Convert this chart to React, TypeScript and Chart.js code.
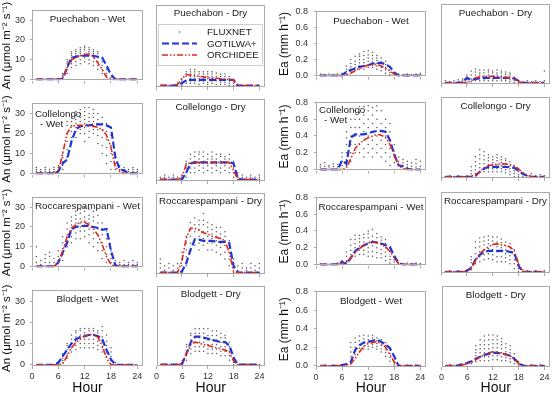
import React, { useEffect, useRef } from "react";
import { Chart, registerables } from "chart.js";
Chart.register(...registerables);

const FONT = "'Liberation Sans', Arial, sans-serif";

// ---------- data ----------
const HOURS = [1, 2, 3, 4, 5, 6, 7, 8, 9, 10, 11, 12, 13, 14, 15, 16, 17, 18, 19, 20, 21, 22, 23, 24];
const X_TICKS = [0, 6, 12, 18, 24];
const AN_TICKS = [0, 10, 20, 30];
const EA_TICKS = [0, 0.2, 0.4, 0.6, 0.8];
const SITES = ["Puechabon", "Collelongo", "Roccarespampani", "Blodgett"];
const SEASONS = ["Wet", "Dry"];
const SERIES = ["FLUXNET", "GOTILWA+", "ORCHIDEE"];

// An (µmol m-2 s-1) model means
const anGotPW = [0,0,0,0,0,0,0.3,6,11,11.5,12,12,12,12,11.5,11,7,2.5,0,0,0,0,0,0];
const anOrcPW = [0,0,0,0,0,0,1,6,10,11,12,12.5,13,11.5,8.5,5,1,0,0,0,0,0,0,0];
const anGotPD = [0,0,0,0,0.3,1,2.3,2.5,2.5,2.5,2.5,2.5,2.5,2.5,2.5,2.5,2.5,2.5,0,0,0,0,0,0];
const anOrcPD = [0,0,0,0,0.5,3,4.8,4.5,4.3,4,3.8,3.5,3.3,3.2,3,2.8,2.6,2.3,0,0,0,0,0,0];
const anGotCW = [0,0,0,0,0,1,5,7,16,22,23.5,24,24,24.5,24.5,24.5,24,23,8,2,1.5,0,0,0];
const anOrcCW = [0,0,0,0,0,1,10,20,23.5,24,24,24,24,23.5,23,22,19,13,3,1,0,0,0,0];
const anGotCD = [0,0,0,0,0,0,3,7,7.5,7.5,7.5,7.5,7.5,7.5,7.5,7.5,7.5,7,0.5,0,0,0,0,0];
const anOrcCD = [0,0,0,0,0,1,6.5,7.5,7.5,7.5,7.5,7.5,7.5,7.5,7.5,7.5,7.5,4,0,0,0,0,0,0];
const anGotRW = [0,0,0,0,0,2,7,12,19,20,20.5,20.5,20.5,20,19.5,18.5,19,8,0.5,0,0,0,0,0];
const anOrcRW = [0,0,0,0,0,2,8,15,19.5,21,22.5,22.5,21,19,16,11,5,1,0,0,0,0,0,0];
const anGotRD = [0,0,0,0,0,0.5,4,10,14.5,14.5,14,14,14,13.5,13.5,13.5,13,3,0,0,0,0,0,0];
const anOrcRD = [0,0,0,0,0,5,15,19.5,19.5,18.5,17.5,17,16,15.5,15,14,9,0.5,0,0,0,0,0,0];
const anGotBW = [0,0,0,0,0,1,4,7,10,12,13,13.5,14,14,13.5,12,7,2.5,0,0,0,0,0,0];
const anOrcBW = [0,0,0,0,0,0,0.5,4,8,10.5,12,13.5,14,14.5,13,9,3,0,0,0,0,0,0,0];
const anGotBD = [0,0,0,0,0,0.5,5,10,12.5,12.5,12,11.5,11,10.5,10,10,8.5,3,0,0,0,0,0,0];
const anOrcBD = [0,0,0,0,0,0.5,5,9,10,9.5,9,8.5,8,7.5,7,6.5,5.5,1.5,0,0,0,0,0,0];

// Ea (mm h-1) model means
const eaGotPW = [0,0,0,0,0,0,0.05,0.07,0.09,0.11,0.12,0.13,0.15,0.16,0.16,0.14,0.11,0.04,0,0,0,0,0,0];
const eaOrcPW = [0,0,0,0,0,0,0.01,0.03,0.06,0.09,0.11,0.13,0.14,0.14,0.12,0.09,0.06,0.02,0,0,0,0,0,0];
const eaGotPD = [0,0,0,0,0.005,0.05,0.03,0.04,0.045,0.05,0.05,0.05,0.05,0.05,0.05,0.05,0.045,0.02,0,0,0,0,0,0];
const eaOrcPD = [0,0,0,0,0,0.005,0.02,0.05,0.06,0.065,0.065,0.065,0.065,0.06,0.055,0.05,0.04,0.01,0,0,0,0,0,0];
const eaGotCW = [0,0,0,0,0,0.11,0.07,0.38,0.42,0.42,0.42,0.43,0.45,0.46,0.46,0.45,0.35,0.18,0.05,0.04,0.01,0,0,0];
const eaOrcCW = [0,0,0,0,0,0,0.02,0.13,0.25,0.31,0.35,0.38,0.4,0.42,0.41,0.38,0.3,0.17,0.05,0.01,0,0,0,0];
const eaGotCD = [0,0,0,0,0,0,0,0.01,0.05,0.08,0.1,0.1,0.1,0.1,0.1,0.095,0.09,0.06,0.03,0.01,0,0,0,0];
const eaOrcCD = [0,0,0,0,0,0,0.005,0.02,0.05,0.09,0.11,0.12,0.125,0.13,0.13,0.12,0.11,0.08,0.04,0.02,0,0,0,0];
const eaGotRW = [0,0,0,0,0.005,0.03,0.01,0.08,0.16,0.2,0.23,0.25,0.27,0.265,0.25,0.23,0.21,0.1,0.02,0,0,0,0,0];
const eaOrcRW = [0,0,0,0,0,0.01,0.03,0.08,0.14,0.19,0.23,0.26,0.27,0.26,0.24,0.21,0.16,0.08,0.01,0,0,0,0,0];
const eaGotRD = [0,0,0,0,0,0.01,0.04,0.12,0.17,0.2,0.21,0.21,0.21,0.21,0.21,0.2,0.19,0.06,0,0,0,0,0,0];
const eaOrcRD = [0,0,0,0,0,0.005,0.03,0.11,0.18,0.22,0.25,0.275,0.28,0.27,0.265,0.25,0.21,0.08,0,0,0,0,0,0];
const eaGotBW = [0,0,0,0,0,0.01,0.02,0.04,0.17,0.22,0.25,0.26,0.27,0.28,0.26,0.23,0.19,0.1,0,0,0,0,0,0];
const eaOrcBW = [0,0,0,0,0,0,0.01,0.02,0.08,0.15,0.21,0.24,0.25,0.26,0.24,0.2,0.12,0.04,0,0,0,0,0,0];
const eaGotBD = [0,0,0,0.005,0.02,0.03,0.045,0.07,0.09,0.11,0.12,0.13,0.13,0.12,0.115,0.1,0.07,0.03,0,0,0,0,0,0];
const eaOrcBD = [0,0,0,0,0.01,0.02,0.035,0.06,0.09,0.11,0.13,0.14,0.135,0.125,0.115,0.1,0.07,0.02,0,0,0,0,0,0];

// FLUXNET observations, one list per hour
const anFluxPW = [[],[],[],[],[],[0.5],[0,1,2,3],[3,5,6,8,9,10],[6,8,9,11,12,13,14],[7,9,11,12,13,14,15],[8,10,12,13,14,15,16],[9,11,12,13,15,16,17],[8,10,12,14,15,16],[7,9,11,13,14,15],[5,7,9,11,13,14],[3,5,7,9,11],[0,2,3,5],[0,1],[],[],[],[],[],[]];
const anFluxPD = [[],[],[],[],[0,1],[0,1,2,3],[1,2,4,5,6],[1,2,3,4,5,6,7],[1,2,3,4,5,6,7],[0.5,2,3,4,5,6],[1,2,3,4,5,6],[0.5,1.5,3,4,5,6],[1,2,3,4,5,6],[0.5,2,3,4,5.5],[0.5,1.5,3,4,5],[0.5,1.5,2.5,4,5],[0,1,2,3,4],[0,1,2],[],[],[],[],[],[]];
const anFluxCW = [[0,1,2,3],[0,1,2],[0,1,2,3],[0,1,2],[0,1,2,3],[0,1,2,3,4],[2,4,6,8,10],[8,12,16,20,24,26],[15,18,21,24,26,28],[18,21,23,25,27,29,31],[20,22,24,26,28,30,32],[16,20,23,25,27,29,31,33],[18,21,24,26,28,30,33],[20,22,24,26,28,30,32],[15,19,22,25,27,30],[10,14,18,22,25,28],[5,9,13,17,21,25],[2,6,10,14,19],[0,2,5,8,10],[0,1,2,4],[0,1,2,3],[0,1,2],[0,1,2,3],[0,1,2]];
const anFluxCD = [[0,1],[0,1,2],[0,1],[0,1,2],[0,1],[0,1,2],[1,3,5,7,8],[3,5,7,9,11],[3,5,7,8,10,12],[4,6,7,9,11,12],[3,5,7,8,10,12],[4,6,7,9,11],[3,5,7,9,10,12],[4,6,7,9,11],[3,5,7,8,10,11],[4,6,7,9,10],[3,5,7,9,11],[1,3,5,7,8],[0,1,3],[0,1,2],[0,1],[0,1,2],[0,1],[0,1,2]];
const anFluxRW = [[0,2,5,10],[0,1,3],[0,2,4,6],[0,2,5,7],[0,2,4],[0,3,5,8],[3,6,9,12,15],[10,13,16,19,22],[12,15,18,21,23,25],[14,17,20,22,24,26,28],[14,18,20,22,24,27,29],[15,18,21,23,25,28,30],[12,16,19,22,24,26,29],[10,14,17,20,23,25,28],[8,12,16,19,22,26],[4,8,12,16,19,22],[2,6,10,14,18],[0,2,4,6,8],[0,1,3],[0,1,2],[0,1,3],[0,1,2],[0,1,3],[0,1,2]];
const anFluxRD = [[0,2,4,6],[0,1,3],[0,2,4],[0,1,3],[0,2,4],[0,3,6,9],[3,7,10,13,16],[10,13,16,19,22],[12,15,18,21,24],[10,13,16,19,21,23],[12,15,18,21,23,26],[10,13,16,18,20,22],[10,13,15,17,19,21],[9,12,14,16,18,20],[8,11,13,15,17,20],[6,9,12,14,16,18],[3,6,9,12,14],[0,2,4,6],[0,1,3],[0,2,4],[0,1,2],[0,2,4],[0,1,3],[0,2,4]];
const anFluxBW = [[],[],[],[],[],[0,1],[1,2,3,4,5],[3,5,7,9,10],[6,8,10,12,14],[7,9,11,13,15,16],[8,10,12,14,16,17],[8,10,12,14,15,17],[8,10,12,14,16,17],[8,10,12,14,16,17],[7,9,11,13,15,16],[6,8,11,13,16,18],[4,6,9,11,14],[0,2,4,6,8],[0,1],[],[],[],[],[]];
const anFluxBD = [[0],[0],[0],[0],[0],[0,1,2],[2,4,6,8,9],[5,7,9,11,13,14],[6,8,10,12,14,16],[6,8,10,12,14,16],[6,8,10,12,14,16],[5,7,9,11,13,16],[5,7,9,11,13,15],[5,7,9,11,13,15],[4,6,8,10,12,14],[4,6,8,10,12,13],[2,4,6,8,10],[0,1,2,3],[0],[0],[0],[0],[0],[0]];

const eaFluxPW = [[0,0.02],[0.01],[0,0.02],[0.01],[0,0.02],[0,0.02,0.03],[0.02,0.05,0.08,0.12],[0.05,0.08,0.11,0.15,0.2],[0.07,0.1,0.14,0.18,0.24],[0.08,0.12,0.16,0.2,0.24,0.27],[0.08,0.12,0.16,0.2,0.25,0.3],[0.1,0.14,0.18,0.22,0.26,0.31],[0.1,0.13,0.17,0.21,0.25,0.29],[0.08,0.12,0.15,0.19,0.22,0.25],[0.06,0.1,0.13,0.17,0.22],[0.03,0.07,0.1,0.14,0.18],[0.01,0.04,0.07,0.1],[0,0.02,0.04],[0,0.02],[0.01],[0,0.02],[0.01],[0,0.02],[0.01,0.03]];
const eaFluxPD = [[0,0.02],[0.01],[0,0.02],[0.01,0.03],[0,0.02,0.04],[0,0.03,0.06,0.08],[0.01,0.04,0.08,0.12],[0.02,0.05,0.08,0.11,0.14],[0.02,0.05,0.08,0.1,0.13],[0.02,0.04,0.07,0.1,0.13],[0.02,0.05,0.08,0.11,0.13],[0.02,0.04,0.07,0.1,0.12],[0.02,0.05,0.08,0.1,0.13],[0.02,0.04,0.07,0.1,0.12],[0.02,0.04,0.06,0.09,0.11],[0.01,0.03,0.06,0.08,0.1],[0,0.02,0.04,0.06],[0,0.02],[0.01],[0,0.02],[0.01],[0,0.02],[0.01],[0.02,0.12]];
const eaFluxCW = [[0,0.03,0.06],[0,0.04,0.08],[0,0.03,0.05],[0,0.04,0.07],[0,0.03,0.06],[0,0.05,0.1,0.15,0.2],[0.05,0.12,0.2,0.3,0.38,0.45],[0.1,0.2,0.3,0.4,0.5,0.6],[0.2,0.3,0.4,0.5,0.6,0.7],[0.2,0.3,0.4,0.5,0.6,0.68,0.75],[0.15,0.25,0.35,0.45,0.55,0.65,0.75],[0.2,0.3,0.4,0.5,0.6,0.7,0.76],[0.15,0.25,0.35,0.45,0.55,0.65,0.74],[0.2,0.3,0.4,0.5,0.6,0.7,0.76],[0.15,0.25,0.35,0.45,0.55,0.7],[0.1,0.2,0.3,0.4,0.5,0.6],[0.05,0.15,0.25,0.35,0.45,0.55],[0,0.08,0.15,0.22,0.3],[0,0.05,0.1,0.15],[0,0.04,0.08,0.12],[0,0.03,0.06,0.1],[0,0.04,0.08],[0,0.03,0.07,0.12],[0,0.04,0.1]];
const eaFluxCD = [[0],[0.01],[0],[0.01],[0],[0.01],[0,0.03,0.06,0.1],[0.03,0.07,0.11,0.15,0.2],[0.05,0.09,0.13,0.18,0.22,0.27],[0.05,0.09,0.13,0.17,0.21,0.25],[0.05,0.08,0.12,0.16,0.19,0.22],[0.05,0.08,0.11,0.14,0.17,0.2],[0.05,0.08,0.12,0.16,0.19,0.22],[0.05,0.08,0.11,0.14,0.17,0.2],[0.04,0.07,0.1,0.13,0.16,0.18],[0.02,0.05,0.08,0.11,0.15],[0,0.03,0.06,0.1],[0,0.02,0.05],[0,0.02],[0.01],[0,0.03],[0.01],[0,0.02],[0.01]];
const eaFluxRW = [[0,0.01],[0.01],[0],[0.01],[0,0.02],[0,0.02,0.05],[0.02,0.05,0.1,0.15],[0.07,0.12,0.17,0.23,0.3],[0.1,0.15,0.2,0.25,0.3,0.35],[0.12,0.17,0.22,0.27,0.31,0.35],[0.12,0.17,0.22,0.27,0.32,0.36],[0.1,0.15,0.2,0.26,0.32,0.37,0.4],[0.1,0.16,0.22,0.28,0.34,0.42],[0.08,0.14,0.2,0.26,0.32,0.37],[0.08,0.13,0.18,0.24,0.29,0.33],[0.05,0.1,0.15,0.2,0.25,0.3],[0.02,0.06,0.1,0.15,0.2],[0,0.03,0.06,0.08],[0,0.02],[0.01],[0,0.02],[0.01],[0,0.02],[0.01]];
const eaFluxRD = [[0],[0.01],[0],[0.01],[0],[0,0.02],[0.02,0.05,0.09,0.12,0.15],[0.08,0.13,0.18,0.24,0.3],[0.1,0.15,0.2,0.25,0.3,0.34],[0.12,0.17,0.22,0.27,0.31,0.35],[0.13,0.18,0.23,0.28,0.32,0.36],[0.12,0.17,0.22,0.27,0.31,0.35],[0.1,0.15,0.2,0.25,0.3,0.35],[0.1,0.15,0.2,0.24,0.29,0.33],[0.1,0.14,0.18,0.22,0.26,0.3],[0.08,0.12,0.16,0.2,0.24,0.28],[0.03,0.08,0.12,0.17,0.22],[0,0.03,0.06,0.08],[0,0.02],[0.01],[0],[0.01],[0],[0.01]];
const eaFluxBW = [[0],[0.01],[0],[0.01],[0],[0.01],[0,0.02],[0.05,0.1,0.15,0.2,0.25],[0.12,0.16,0.2,0.25,0.3],[0.15,0.19,0.23,0.27,0.32],[0.18,0.21,0.25,0.29,0.33],[0.18,0.21,0.25,0.28,0.32],[0.2,0.23,0.26,0.3,0.33],[0.18,0.21,0.24,0.27,0.3],[0.15,0.18,0.22,0.25,0.28],[0.1,0.14,0.18,0.22,0.25],[0.05,0.09,0.13,0.17,0.2],[0,0.02,0.05],[0.01],[0],[0.01],[0],[0.01],[0]];
const eaFluxBD = [[0],[0.01],[0],[0.01],[0.01],[0.02],[0.02,0.04],[0.04,0.07,0.1,0.13,0.16,0.2],[0.05,0.09,0.13,0.17,0.21,0.26],[0.05,0.09,0.13,0.17,0.21,0.25,0.3],[0.05,0.09,0.13,0.17,0.21,0.26,0.31],[0.06,0.1,0.14,0.18,0.22,0.26,0.31],[0.06,0.1,0.14,0.18,0.22,0.26,0.3],[0.05,0.09,0.13,0.17,0.21,0.24,0.27],[0.05,0.08,0.11,0.14,0.18,0.22],[0.04,0.07,0.1,0.13,0.16,0.2],[0.02,0.05,0.08,0.12],[0,0.02,0.04],[0.01],[0],[0.01],[0],[0.01],[0]];

// ---------- panels ----------
type PanelDef = { row: number; col: number; got: number[]; orc: number[]; flux: number[][] };
const PANELS: PanelDef[] = [
  { row: 0, col: 0, got: anGotPW, orc: anOrcPW, flux: anFluxPW },
  { row: 0, col: 1, got: anGotPD, orc: anOrcPD, flux: anFluxPD },
  { row: 0, col: 2, got: eaGotPW, orc: eaOrcPW, flux: eaFluxPW },
  { row: 0, col: 3, got: eaGotPD, orc: eaOrcPD, flux: eaFluxPD },
  { row: 1, col: 0, got: anGotCW, orc: anOrcCW, flux: anFluxCW },
  { row: 1, col: 1, got: anGotCD, orc: anOrcCD, flux: anFluxCD },
  { row: 1, col: 2, got: eaGotCW, orc: eaOrcCW, flux: eaFluxCW },
  { row: 1, col: 3, got: eaGotCD, orc: eaOrcCD, flux: eaFluxCD },
  { row: 2, col: 0, got: anGotRW, orc: anOrcRW, flux: anFluxRW },
  { row: 2, col: 1, got: anGotRD, orc: anOrcRD, flux: anFluxRD },
  { row: 2, col: 2, got: eaGotRW, orc: eaOrcRW, flux: eaFluxRW },
  { row: 2, col: 3, got: eaGotRD, orc: eaOrcRD, flux: eaFluxRD },
  { row: 3, col: 0, got: anGotBW, orc: anOrcBW, flux: anFluxBW },
  { row: 3, col: 1, got: anGotBD, orc: anOrcBD, flux: anFluxBD },
  { row: 3, col: 2, got: eaGotBW, orc: eaOrcBW, flux: eaFluxBW },
  { row: 3, col: 3, got: eaGotBD, orc: eaOrcBD, flux: eaFluxBD },
];

// ---------- layout / style ----------
const COLS = [{ l: 32, r: 143 }, { l: 154, r: 265 }, { l: 316, r: 426 }, { l: 439, r: 550 }];
const ROWS_L = [{ t: 5, b: 87 }, { t: 99, b: 181 }, { t: 193, b: 274 }, { t: 286, b: 366 }];
const ROWS_R = [{ t: 3, b: 84 }, { t: 97, b: 178 }, { t: 192, b: 273 }, { t: 286, b: 367 }];
const BLUE = "#1f33d8";
const RED = "#e3261c";
const DOT = "#555555";
const FRAME = "#a9a9a9";
const BLUE_DASH = [7, 3];
const RED_DASH = [6, 2, 1.5, 2, 1.5, 2];

function makeDeco(def: PanelDef, isEa: boolean) {
  const site = SITES[def.row];
  const season = SEASONS[def.col % 2];
  const split = site === "Collelongo" && season === "Wet";
  const lines = split ? [site, "- " + season] : [site + " - " + season];
  const legend = def.row === 0 && def.col === 1;
  return {
    id: "panelDeco",
    afterDatasetsDraw(chart: any) {
      const { ctx, chartArea: a } = chart;
      ctx.save();
      ctx.strokeStyle = FRAME;
      ctx.lineWidth = 1;
      ctx.strokeRect(Math.round(a.left) + 0.5, Math.round(a.top) + 0.5, Math.round(a.right - a.left) - 1, Math.round(a.bottom - a.top) - 1);
      ctx.fillStyle = "#1a1a1a";
      ctx.font = `9.8px ${FONT}`;
      ctx.textBaseline = "middle";
      if (split) {
        ctx.textAlign = "left";
        const y0 = a.top + (isEa ? 8 : 11);
        lines.forEach((s, i) => ctx.fillText(s, a.left + 3 + (i > 0 ? 5 : 0), y0 + i * 10));
      } else {
        ctx.textAlign = "center";
        ctx.fillText(lines[0], (a.left + a.right) / 2, a.top + (isEa ? 9.5 : 8.5));
      }
      if (legend) {
        const bx = a.left + 2, by = a.top + 19, bw = a.right - a.left - 4, bh = 42;
        ctx.fillStyle = "#fff";
        ctx.fillRect(bx, by, bw, bh);
        ctx.strokeStyle = "#cfcfcf";
        ctx.strokeRect(bx + 0.5, by + 0.5, bw - 1, bh - 1);
        chart.data.datasets.forEach((ds: any, i: number) => {
          const y = by + 8 + i * 11.5;
          const x0 = a.left + 6, x1 = a.left + 41;
          if (!ds.showLine) {
            ctx.fillStyle = DOT;
            ctx.beginPath();
            ctx.arc((x0 + x1) / 2, y, 0.8, 0, Math.PI * 2);
            ctx.fill();
          } else {
            ctx.setLineDash(ds.borderDash);
            ctx.lineWidth = ds.borderWidth;
            ctx.strokeStyle = ds.borderColor;
            ctx.beginPath();
            ctx.moveTo(x0, y);
            ctx.lineTo(x1, y);
            ctx.stroke();
            ctx.setLineDash([]);
          }
          ctx.fillStyle = "#1a1a1a";
          ctx.textAlign = "left";
          ctx.fillText(ds.label, a.left + 51, y + 0.5);
        });
      }
      ctx.restore();
    },
  };
}

function Panel({ def }: { def: PanelDef }) {
  const ref = useRef<HTMLCanvasElement>(null);
  const isEa = def.col >= 2;
  const c = COLS[def.col];
  const r = (isEa ? ROWS_R : ROWS_L)[def.row];
  const yLabels = def.col % 2 === 0;
  const bottom = def.row === 3;
  const canvasLeft = def.col === 0 ? 0 : def.col === 2 ? 277 : c.l - 2;
  const yw = c.l - canvasLeft;
  const padTop = Math.min(r.t, 6);
  const canvasTop = r.t - padTop;
  const canvasBottom = bottom ? 400 : r.b + 4;
  const xh = canvasBottom - r.b;
  const padRight = 6;
  const w = c.r + padRight - canvasLeft;
  const h = canvasBottom - canvasTop;

  useEffect(() => {
    const fluxPts = def.flux.flatMap((vals, i) => vals.map((v) => ({ x: HOURS[i], y: v })));
    const gotPts = HOURS.map((hh, i) => ({ x: hh, y: def.got[i] }));
    const orcPts = HOURS.map((hh, i) => ({ x: hh, y: def.orc[i] }));
    const chart = new Chart(ref.current!, {
      type: "scatter",
      data: {
        datasets: [
          { label: SERIES[0], data: fluxPts, showLine: false, pointRadius: 0.75, pointBackgroundColor: DOT, pointBorderWidth: 0, order: 3 } as any,
          { label: SERIES[1], data: gotPts, showLine: true, borderColor: BLUE, borderWidth: 2.2, borderDash: BLUE_DASH, pointRadius: 0, order: 2 } as any,
          { label: SERIES[2], data: orcPts, showLine: true, borderColor: RED, borderWidth: 1.6, borderDash: RED_DASH, pointRadius: 0, order: 1 } as any,
        ],
      },
      options: {
        animation: false,
        responsive: false,
        devicePixelRatio: 1,
        events: [],
        layout: { padding: { top: padTop, right: padRight, left: 0, bottom: 0 } },
        plugins: { legend: { display: false }, tooltip: { enabled: false } },
        scales: {
          x: {
            type: "linear",
            min: 0,
            max: 25.3,
            afterBuildTicks: (s: any) => { s.ticks = X_TICKS.map((v) => ({ value: v })); },
            afterFit: (s: any) => { s.height = xh; },
            grid: { display: true, drawOnChartArea: false, drawTicks: true, tickLength: 3, color: FRAME },
            border: { display: false },
            ticks: { display: bottom, font: { size: 9, family: FONT }, color: "#333", padding: 2, maxRotation: 0, autoSkip: false },
            title: { display: bottom, text: "Hour", font: { size: 14, family: FONT }, color: "#111", padding: { top: 0, bottom: 3 } },
          },
          y: {
            type: "linear",
            min: isEa ? -0.012 : -0.6,
            max: isEa ? 0.8 : 35,
            afterBuildTicks: (s: any) => { s.ticks = (isEa ? EA_TICKS : AN_TICKS).map((v) => ({ value: v })); },
            afterFit: (s: any) => { s.width = yw; },
            grid: { display: true, drawOnChartArea: false, drawTicks: yLabels, tickLength: 2, color: FRAME },
            border: { display: false },
            ticks: {
              display: yLabels,
              font: { size: 9, family: FONT },
              color: "#333",
              padding: isEa ? 6 : 5,
              callback: (v: any) => (isEa ? Number(v).toFixed(1) : String(v)),
            },
            title: {
              display: yLabels,
              text: isEa ? "Ea (mm h⁻¹)" : "An (μmol m⁻² s⁻¹)",
              font: { size: isEa ? 12 : 11.5, family: FONT },
              color: "#111",
              padding: { top: 0, bottom: 0 },
            },
          },
        },
      },
      plugins: [makeDeco(def, isEa) as any],
    });
    return () => chart.destroy();
  }, []);

  return (
    <canvas
      ref={ref}
      width={w}
      height={h}
      style={{ position: "absolute", left: canvasLeft, top: canvasTop, width: w, height: h }}
    />
  );
}

export default function App() {
  return (
    <div style={{ position: "absolute", left: 0, top: 0, width: 558, height: 400, background: "#fff", overflow: "hidden" }}>
      {PANELS.map((p, i) => (
        <Panel key={i} def={p} />
      ))}
    </div>
  );
}
